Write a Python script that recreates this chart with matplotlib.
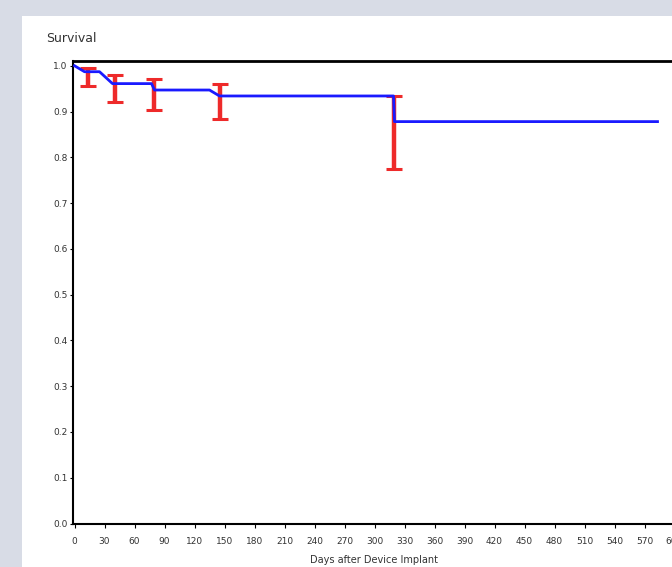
import matplotlib.pyplot as plt
from matplotlib.patches import Rectangle

# survival curve (days, survival)
days = [0, 10, 25, 38, 77, 80, 135, 145, 319, 320, 583]
surv = [1.0, 0.987, 0.987, 0.961, 0.961, 0.947, 0.947, 0.934, 0.934, 0.878, 0.878]

# confidence interval bars
ci_days = [13, 40, 79, 145, 319]
ci_low = [0.955, 0.921, 0.903, 0.883, 0.774]
ci_high = [0.996, 0.980, 0.972, 0.960, 0.934]

xticks = list(range(0, 601, 30))
yticks = [0.0, 0.1, 0.2, 0.3, 0.4, 0.5, 0.6, 0.7, 0.8, 0.9, 1.0]

W, H = 672, 567
fig = plt.figure(figsize=(W / 100, H / 100), dpi=100)
fig.patch.set_facecolor('#d8dce6')
fig.patches.append(Rectangle((22 / W, 0), 1, 1 - 16 / H, transform=fig.transFigure,
                             facecolor='white', edgecolor='none', zorder=-1))

ax = fig.add_axes([72.5 / W, 1 - 523.5 / H, 618 / W, 462.5 / H])
ax.set_facecolor('none')

mid = [(lo + hi) / 2 for lo, hi in zip(ci_low, ci_high)]
err = [(hi - lo) / 2 for lo, hi in zip(ci_low, ci_high)]
ax.errorbar(ci_days, mid, yerr=err, fmt='none', ecolor='#ee2a2a', elinewidth=3.2,
            capsize=5.5, capthick=2.2, zorder=2)
ax.plot(days, surv, color='#1a1aff', lw=2, zorder=3)

ax.set_xlim(-2, 616)
ax.set_ylim(0, 1.0104)
ax.set_xticks(xticks)
ax.set_xticklabels([str(t) for t in xticks])
ax.set_yticks(yticks)
ax.set_yticklabels(['%.1f' % t for t in yticks])
ax.tick_params(labelsize=6.5, labelcolor='#333333', width=0.8)
ax.tick_params(axis='x', length=3, pad=6.5)
ax.tick_params(axis='y', length=2, pad=1.5)

for s in ['top', 'left', 'bottom']:
    ax.spines[s].set_color('black')
ax.spines['top'].set_linewidth(2)
ax.spines['left'].set_linewidth(1.5)
ax.spines['bottom'].set_linewidth(1.5)
ax.spines['right'].set_visible(False)

fig.text(46 / W, 1 - 38 / H, 'Survival', fontsize=9, color='#333333', va='center', ha='left')
fig.text(374 / W, 1 - 560 / H, 'Days after Device Implant', fontsize=7, color='#333333',
         va='center', ha='center')

fig.savefig('out.png', dpi=100)
